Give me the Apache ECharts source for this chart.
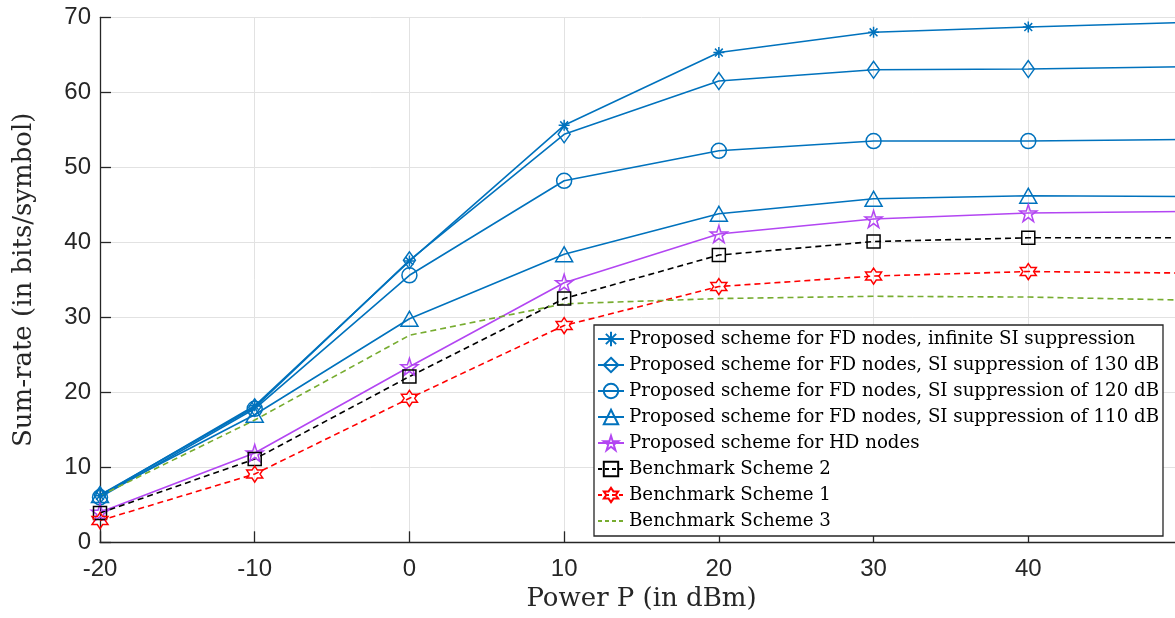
<!DOCTYPE html>
<html>
<head>
<meta charset="utf-8">
<script src="https://cdn.jsdelivr.net/npm/echarts@6/dist/echarts.min.js"></script>
<style>html,body{margin:0;padding:0;background:#fff;overflow:hidden}#c{width:1186px;height:618px}</style>
</head>
<body>
<div id="c"></div>
<script>
const powerDbm = [-20, -10, 0, 10, 20, 30, 40, 50];
const fdInfinite = [6.2, 18.2, 37.5, 55.6, 65.3, 68.0, 68.7, 69.3];
const fd130 = [6.3, 18.0, 37.6, 54.4, 61.5, 63.0, 63.1, 63.4];
const fd120 = [6.0, 17.8, 35.6, 48.2, 52.2, 53.5, 53.5, 53.7];
const fd110 = [6.3, 17.0, 29.8, 38.4, 43.8, 45.8, 46.2, 46.1];
const hdNodes = [4.0, 11.9, 23.4, 34.6, 41.1, 43.1, 43.9, 44.1];
const bench2 = [3.9, 11.1, 22.1, 32.5, 38.3, 40.1, 40.6, 40.6];
const bench1 = [2.9, 9.1, 19.2, 28.9, 34.1, 35.5, 36.1, 35.9];
const bench3 = [6.2, 16.3, 27.6, 31.8, 32.5, 32.8, 32.7, 32.3];
const seriesNames = [
  'Proposed scheme for FD nodes, infinite SI suppression',
  'Proposed scheme for FD nodes, SI suppression of 130 dB',
  'Proposed scheme for FD nodes, SI suppression of 120 dB',
  'Proposed scheme for FD nodes, SI suppression of 110 dB',
  'Proposed scheme for HD nodes',
  'Benchmark Scheme 2',
  'Benchmark Scheme 1',
  'Benchmark Scheme 3'
];
const xTitle = 'Power P (in dBm)';
const yTitle = 'Sum-rate (in bits/symbol)';

const BLUE = '#0072BD', PURPLE = '#B346F2', BLACK = '#000000', RED = '#FF0000', GREEN = '#77AC30';
const ASTER = 'path://M0,-100L0,100M-100,0L100,0M-71,-71L71,71M-71,71L71,-71';
const PENTA = 'path://M0,-100L22.45,-30.9L95.1,-30.9L36.33,11.8L58.8,80.9L0,38.2L-58.8,80.9L-36.33,11.8L-95.1,-30.9L-22.45,-30.9Z';
const HEXA = 'path://M0,-100L28.87,-50L86.6,-50L57.7,0L86.6,50L28.87,50L0,100L-28.87,50L-86.6,50L-57.7,0L-86.6,-50L-28.87,-50Z';
const DASH = [6,4];

// last point lies just outside the visible window; hide its marker
function pairs(ys){
  return powerDbm.map((x,i)=> i === powerDbm.length-1 ? {value:[x, ys[i]], symbol:'none'} : [x, ys[i]]);
}
function mk(name, ys, color, symbol, size, dashed){
  return {
    name, type:'line', data:pairs(ys),
    symbol: symbol || 'none', symbolSize: size || 0, showSymbol: !!symbol,
    clip: true,
    lineStyle:{color, width:1.6, type: dashed ? DASH : 'solid'},
    itemStyle:{color:'rgba(255,255,255,0)', borderColor:color, borderWidth:1.5},
    emphasis:{disabled:true},
    animation:false
  };
}

const legendData = seriesNames.map((n,i)=>{
  const d = {name:n};
  if (i >= 5) d.lineStyle = {type:[4,3]};
  if (i === 7) d.itemStyle = {color:'rgba(0,0,0,0)', borderWidth:0, borderColor:'rgba(0,0,0,0)'};
  return d;
});

const chart = echarts.init(document.getElementById('c'), null, {renderer:'canvas'});
chart.setOption({
  animation:false,
  backgroundColor:'#fff',
  grid:{left:100, right:0, top:17.3, bottom:75.7, containLabel:false},
  xAxis:{
    type:'value', min:-20, max:50, interval:10,
    name:xTitle, nameLocation:'middle', nameGap:42,
    nameTextStyle:{fontFamily:'DejaVu Serif', fontSize:26, color:'#262626'},
    axisLine:{show:true, onZero:false, lineStyle:{color:'#262626', width:1.3}},
    axisTick:{show:true, inside:true, length:11, lineStyle:{color:'#262626', width:1.3}},
    axisLabel:{fontFamily:'Liberation Sans', fontSize:24, color:'#262626', margin:15,
      formatter:v=> v===50 ? '' : String(v)},
    splitLine:{show:true, lineStyle:{color:'#e2e2e2', width:1}}
  },
  yAxis:{
    type:'value', min:0, max:70, interval:10,
    name:yTitle, nameLocation:'middle', nameGap:63,
    nameTextStyle:{fontFamily:'DejaVu Serif', fontSize:26, color:'#262626'},
    axisLine:{show:true, onZero:false, lineStyle:{color:'#262626', width:1.3}},
    axisTick:{show:true, inside:true, length:11, lineStyle:{color:'#262626', width:1.3}},
    axisLabel:{fontFamily:'Liberation Sans', fontSize:24, color:'#262626', margin:9},
    splitLine:{show:true, lineStyle:{color:'#e2e2e2', width:1}}
  },
  legend:{
    orient:'vertical', left:594, top:325,
    backgroundColor:'#fff', borderColor:'#262626', borderWidth:1.3,
    padding:[1,4,2,3], itemGap:0, itemWidth:26, itemHeight:18,
    textStyle:{fontFamily:'DejaVu Serif', fontSize:18.2, color:'#000', lineHeight:26},
    data:legendData
  },
  series:[
    mk(seriesNames[0], fdInfinite, BLUE, ASTER, 11, false),
    mk(seriesNames[1], fd130, BLUE, 'diamond', [12,17], false),
    mk(seriesNames[2], fd120, BLUE, 'circle', 15, false),
    mk(seriesNames[3], fd110, BLUE, 'triangle', [17,15], false),
    mk(seriesNames[4], hdNodes, PURPLE, PENTA, 17, false),
    mk(seriesNames[5], bench2, BLACK, 'rect', 13, true),
    mk(seriesNames[6], bench1, RED, HEXA, 16, true),
    mk(seriesNames[7], bench3, GREEN, null, 0, true)
  ]
});
</script>
</body>
</html>
